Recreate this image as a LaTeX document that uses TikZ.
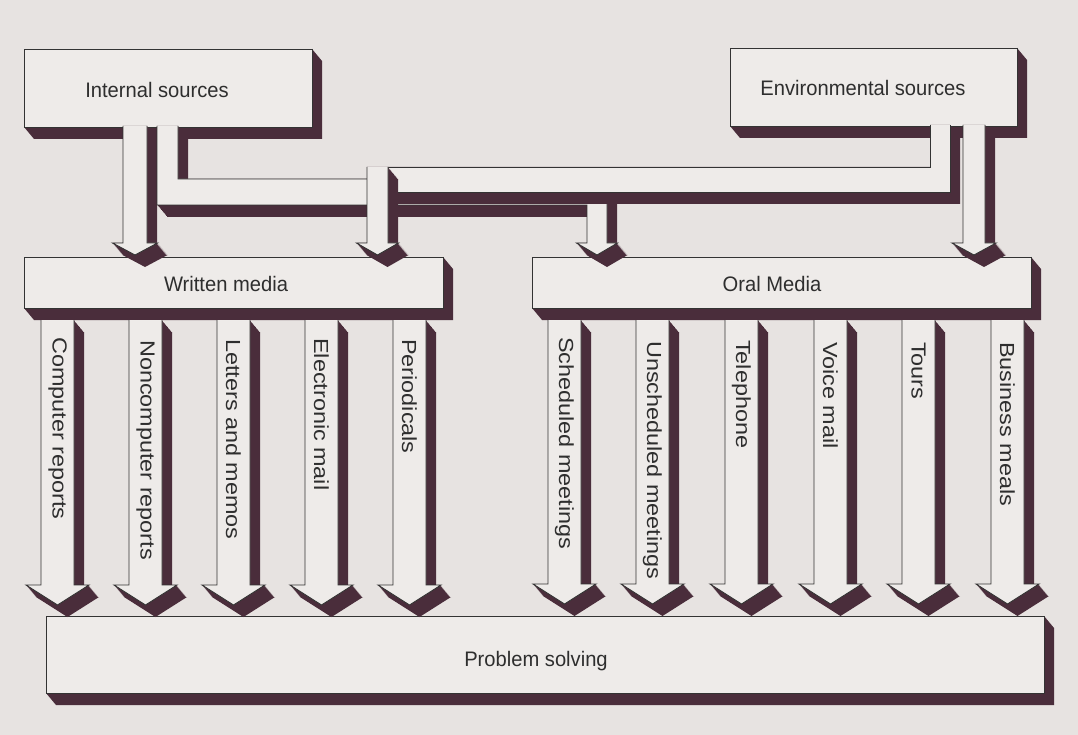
\documentclass[tikz,border=0pt]{standalone}
\usepackage{fontspec}
\setmainfont{Liberation Sans}
\usepackage{graphicx}

\definecolor{paper}{HTML}{E7E3E1}
\definecolor{frontcol}{HTML}{EEEBE9}
\definecolor{slabcol}{HTML}{4A2D3B}
\definecolor{rimcol}{HTML}{333333}
\definecolor{ink}{HTML}{2E2E2E}

\tikzset{
  slabfill/.style={fill=slabcol},
  frontfill/.style={fill=frontcol},
  rim/.style={draw=rimcol, line width=0.9pt, line join=miter},
  hlab/.style={text=ink, inner sep=0pt, font=\fontsize{21}{25}\selectfont},
  vlab/.style={text=ink, inner sep=0pt, rotate=-90, anchor=west,
               font=\fontsize{23.4}{28}\selectfont},
}

% extruded solid: dark sweep along (10,12), then the front face and its rim
\newcommand\prism[1]{%
  \foreach \k in {0,...,12}{\fill[slabfill, shift={(\k*10/12,\k)}] #1 -- cycle;}%
  \fill[frontfill] #1 -- cycle;
  \draw[rim] #1;
}
% flat block: x1 y1 x2 y2
\newcommand\slab[4]{%
  \fill[slabfill] (#3,#2) -- ++(10,12) -- (#3+10,#4+12) -- (#1+10,#4+12)
    -- (#1,#4) -- (#3,#4) -- cycle;
  \filldraw[frontfill, rim] (#1,#2) rectangle (#3,#4);
}
% downward block arrow: left, right, top, head top, barb overhang, head height
\newcommand\shaftarrow[6]{%
  \pgfmathsetmacro\aL{#1-#5}\pgfmathsetmacro\aR{#2+#5}%
  \pgfmathsetmacro\aC{(#1+#2)/2}\pgfmathsetmacro\aT{#4+#6}%
  \prism{(#1,#3) -- (#1,#4) -- (\aL,#4) -- (\aC,\aT) -- (\aR,#4) -- (#2,#4) -- (#2,#3)}%
}
\newcommand\hl[1]{\scalebox{0.96}[1]{#1}}
\newcommand\vl[1]{\scalebox{1}[0.87]{#1}}

\begin{document}
\begin{tikzpicture}[x=1pt,y=-1pt]
\fill[paper] (0,0) rectangle (1078,735);
\useasboundingbox (0,0) rectangle (1078,735);

% problem solving block
\slab{46}{616}{1044}{693}

% media blocks
\slab{24}{257}{443}{308}
\slab{532}{257}{1031}{308}

% written media channels
\shaftarrow{41}{74}{320}{585}{15}{20}
\shaftarrow{129}{162}{320}{585}{15}{20}
\shaftarrow{217}{250}{320}{585}{15}{20}
\shaftarrow{305}{338}{320}{585}{15}{20}
\shaftarrow{393}{426}{320}{585}{15}{20}

% oral media channels
\shaftarrow{548}{581}{320}{584}{15}{20}
\shaftarrow{636}{669}{320}{584}{15}{20}
\shaftarrow{725}{758}{320}{584}{15}{20}
\shaftarrow{814}{847}{320}{584}{15}{20}
\shaftarrow{902}{935}{320}{584}{15}{20}
\shaftarrow{991}{1024}{320}{584}{15}{20}

% source blocks
\slab{24}{49}{312}{127}
\slab{730}{48}{1017}{126}

% internal sources -> written media
\shaftarrow{123}{147}{126}{243}{10.5}{12}
% internal sources -> oral media
\prism{(157,126) -- (157,205) -- (587,205) -- (587,243) -- (576.5,243) -- (597,255)
  -- (617.5,243) -- (607,243) -- (607,179) -- (178,179) -- (178,126)}
% environmental sources -> oral media
\shaftarrow{963}{985}{125}{243}{11}{12}
% environmental sources -> written media
\prism{(930,125) -- (930,167) -- (388,167) -- (388,192) -- (950,192) -- (950,125)}
\shaftarrow{367}{388}{167}{243}{10.5}{12}

% labels
\node[hlab] (tint) at (157,90) {\hl{Internal sources}};
\node[hlab] (tenv) at (863,88) {\hl{Environmental sources}};
\node[hlab] (twri) at (226,284) {\hl{Written media}};
\node[hlab] (tora) at (772,284) {\hl{Oral Media}};
\node[hlab] (tsol) at (536,661) {\hl{Problem solving}};

\node[vlab] (c1) at (57.5,337) {\vl{Computer reports}};
\node[vlab] (c2) at (145.5,340) {\vl{Noncomputer reports}};
\node[vlab] (c3) at (233.5,339) {\vl{Letters and memos}};
\node[vlab] (c4) at (321.5,338) {\vl{Electronic mail}};
\node[vlab] (c5) at (409.5,339) {\vl{Periodicals}};

\node[vlab] (o1) at (564.5,337) {\vl{Scheduled meetings}};
\node[vlab] (o2) at (652.5,341) {\vl{Unscheduled meetings}};
\node[vlab] (o3) at (741.5,340) {\vl{Telephone}};
\node[vlab] (o4) at (830.5,342) {\vl{Voice mail}};
\node[vlab] (o5) at (918.5,342) {\vl{Tours}};
\node[vlab] (o6) at (1007.5,342) {\vl{Business meals}};
\end{tikzpicture}
\end{document}
